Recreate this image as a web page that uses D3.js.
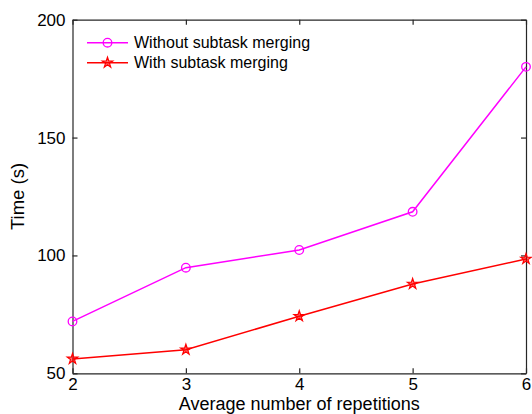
<!DOCTYPE html>
<html>
<head>
<meta charset="utf-8">
<script src="https://cdn.jsdelivr.net/npm/d3@7"></script>
<style>
  body { margin: 0; background: #fff; }
  svg { display: block; font-family: "Liberation Sans", Arial, sans-serif; }
  .axis path, .axis line { stroke: #262626; stroke-width: 1.2; }
  .axis text { fill: #000; font-size: 17px; }
</style>
</head>
<body>
<svg width="532" height="414"></svg>
<script>
const repetitions = [2, 3, 4, 5, 6];
const withoutMerging = [72, 94.8, 102.3, 118.5, 180];
const withMerging = [56.1, 60, 74.2, 87.9, 98.5];
const yTicks = [50, 100, 150, 200];
const seriesNames = ['Without subtask merging', 'With subtask merging'];

const plotLeft = 72.5, plotRight = 526, plotTop = 19.7, plotBottom = 373.3;
const width = plotRight - plotLeft;
const height = plotBottom - plotTop;
const svg = d3.select('svg');

const chart = svg.append('g')
  .attr('transform', `translate(${plotLeft}, ${plotTop})`);

const xScale = d3.scaleLinear()
  .range([0, width])
  .domain([2, 6]);

const yScale = d3.scaleLinear()
  .range([height, 0])
  .domain([50, 200]);

// box axes, ticks pointing inward like matlab
chart.append('g')
  .attr('class', 'axis')
  .attr('transform', `translate(0, ${height})`)
  .call(d3.axisBottom(xScale).tickValues(repetitions).tickFormat(d3.format('d'))
    .tickSizeInner(-5).tickSizeOuter(0).tickPadding(4.5));

chart.append('g')
  .attr('class', 'axis')
  .call(d3.axisLeft(yScale).tickValues(yTicks)
    .tickSizeInner(-5).tickSizeOuter(0).tickPadding(7));

chart.append('g')
  .attr('class', 'axis')
  .call(d3.axisTop(xScale).tickValues(repetitions).tickFormat('')
    .tickSizeInner(-5).tickSizeOuter(0));

chart.append('g')
  .attr('class', 'axis')
  .attr('transform', `translate(${width}, 0)`)
  .call(d3.axisRight(yScale).tickValues(yTicks).tickFormat('')
    .tickSizeInner(-5).tickSizeOuter(0));

const line = d3.line()
  .x((d, i) => xScale(repetitions[i]))
  .y(d => yScale(d));

const star = d3.symbol().type(d3.symbolStar).size(34);

const series = [
  { name: seriesNames[0], values: withoutMerging, color: '#ff00ff', marker: 'circle' },
  { name: seriesNames[1], values: withMerging, color: '#ff0000', marker: 'star' }
];

const drawMarker = (g, s) => {
  if (s.marker === 'circle') {
    g.append('circle')
      .attr('r', 4.3)
      .attr('fill', 'none')
      .attr('stroke', s.color)
      .attr('stroke-width', 1.3);
  } else {
    g.append('path')
      .attr('d', star())
      .attr('fill', s.color)
      .attr('fill-opacity', 0.55)
      .attr('stroke', s.color)
      .attr('stroke-width', 1.2);
  }
};

series.forEach(s => {
  chart.append('path')
    .datum(s.values)
    .attr('fill', 'none')
    .attr('stroke', s.color)
    .attr('stroke-width', 1.5)
    .attr('d', line);

  s.values.forEach((v, i) => {
    const g = chart.append('g')
      .attr('transform', `translate(${xScale(repetitions[i])}, ${yScale(v)})`);
    drawMarker(g, s);
  });
});

// legend (no box)
const legend = svg.append('g');
series.forEach((s, i) => {
  const y = 42.7 + i * 20;
  legend.append('line')
    .attr('x1', 87).attr('x2', 128)
    .attr('y1', y).attr('y2', y)
    .attr('stroke', s.color)
    .attr('stroke-width', 1.5);
  const g = legend.append('g').attr('transform', `translate(107.5, ${y})`);
  drawMarker(g, s);
  legend.append('text')
    .attr('x', 134)
    .attr('y', y)
    .attr('dy', '0.36em')
    .style('font-size', '16px')
    .text(s.name);
});

svg.append('text')
  .attr('x', plotLeft + width / 2)
  .attr('y', 410.1)
  .attr('text-anchor', 'middle')
  .style('font-size', '18px')
  .text('Average number of repetitions');

svg.append('text')
  .attr('transform', `translate(24, ${plotTop + height / 2}) rotate(-90)`)
  .attr('text-anchor', 'middle')
  .style('font-size', '18.5px')
  .text('Time (s)');
</script>
</body>
</html>
